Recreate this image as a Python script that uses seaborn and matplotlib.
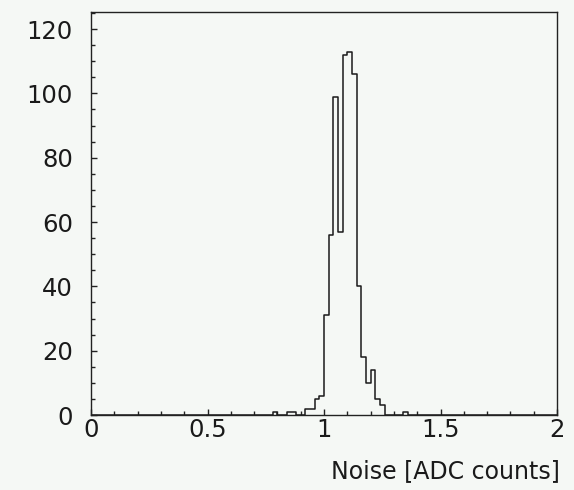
import numpy as np
import pandas as pd
import seaborn as sns
import matplotlib
matplotlib.use("Agg")
import matplotlib.pyplot as plt
from matplotlib.ticker import MultipleLocator

# Noise histogram, bins of 0.02 ADC counts (left edge of each filled bin)
bin_left = [0.78, 0.84, 0.86, 0.92, 0.94, 0.96, 0.98,
            1.00, 1.02, 1.04, 1.06, 1.08, 1.10, 1.12, 1.14,
            1.16, 1.18, 1.20, 1.22, 1.24, 1.34]
counts = [1, 1, 1, 2, 2, 5, 6,
          31, 56, 99, 57, 112, 113, 106, 40,
          18, 10, 14, 5, 3, 1]

df = pd.DataFrame({"noise": np.array(bin_left) + 0.01, "n": counts})

bg = "#f5f8f5"
sns.set_theme(style="ticks")
plt.rcParams["font.family"] = ["DejaVu Sans"]

fig = plt.figure(figsize=(5.74, 4.9), dpi=100, facecolor=bg)
ax = fig.add_axes([91 / 574, 75 / 490, 466 / 574, 403 / 490])
ax.set_facecolor(bg)

sns.histplot(data=df, x="noise", weights="n", binwidth=0.02, binrange=(0, 2),
             element="step", fill=False, color="#1a1a1a", linewidth=1.1, ax=ax)

ax.set_xlim(0, 2)
ax.set_ylim(0, 125.3)
ax.xaxis.set_minor_locator(MultipleLocator(0.1))
ax.yaxis.set_major_locator(MultipleLocator(20))
ax.yaxis.set_minor_locator(MultipleLocator(5))
ax.set_xticks([0, 0.5, 1, 1.5, 2], ["0", "0.5", "1", "1.5", "2"])

ax.tick_params(which="both", direction="in", top=False, right=False,
               color="#222222", width=1)
ax.tick_params(which="major", length=4.5, labelsize=17.5, labelcolor="#1a1a1a")
ax.tick_params(which="minor", length=3)
ax.tick_params(axis="x", which="major", pad=2)
ax.tick_params(axis="y", which="major", pad=13)

for s in ax.spines.values():
    s.set_color("#222222")
    s.set_linewidth(1)

ax.set_ylabel("")
ax.set_xlabel("Noise [ADC counts]", loc="right", fontsize=17,
              color="#1a1a1a", labelpad=13)
ax.xaxis.set_label_coords(1.006, -0.14)
ax.xaxis.label.set_verticalalignment("center")

fig.savefig("out.png", dpi=100, facecolor=bg)
